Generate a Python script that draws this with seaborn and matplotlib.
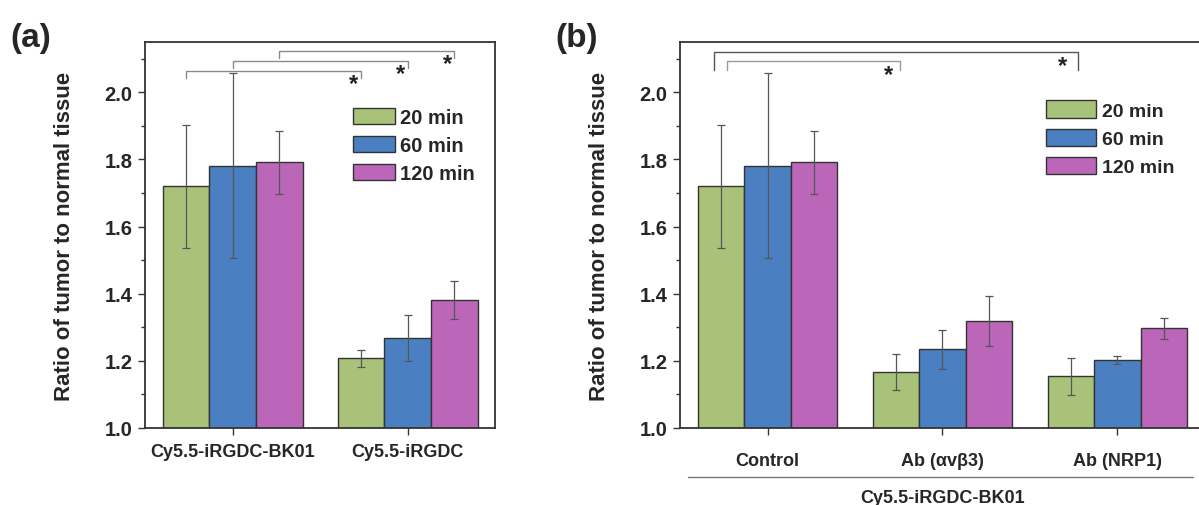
import numpy as np
import pandas as pd
import seaborn as sns
import matplotlib.pyplot as plt
import matplotlib.transforms as mtransforms
from matplotlib.container import BarContainer

# data
times = ["20 min", "60 min", "120 min"]

groups_a = ["Cy5.5-iRGDC-BK01", "Cy5.5-iRGDC"]
a_20 = [1.720, 1.208]
a_60 = [1.782, 1.269]
a_120 = [1.792, 1.381]
err_a_20 = [0.183, 0.025]
err_a_60 = [0.275, 0.069]
err_a_120 = [0.094, 0.057]

groups_b = ["Control", "Ab (\u03b1v\u03b23)", "Ab (NRP1)"]
b_20 = [1.720, 1.167, 1.154]
b_60 = [1.782, 1.234, 1.203]
b_120 = [1.792, 1.319, 1.297]
err_b_20 = [0.183, 0.054, 0.056]
err_b_60 = [0.275, 0.058, 0.011]
err_b_120 = [0.094, 0.075, 0.031]

colors = ["#a8c279", "#4a80c2", "#bc66ba"]

sns.set_theme(style="white")
plt.rcParams["font.family"] = ["Liberation Sans", "DejaVu Sans"]
plt.rcParams["font.weight"] = "bold"


def make_df(groups, vals, errs):
    rows = []
    for t, v, e in zip(times, vals, errs):
        for g, vv, ee in zip(groups, v, e):
            rows.append({"group": g, "time": t, "value": vv, "err": ee})
    return pd.DataFrame(rows)


df_a = make_df(groups_a, [a_20, a_60, a_120], [err_a_20, err_a_60, err_a_120])
df_b = make_df(groups_b, [b_20, b_60, b_120], [err_b_20, err_b_60, err_b_120])

fig = plt.figure(figsize=(11.99, 5.06), dpi=100)
ax_a = fig.add_axes([145 / 1199, 77 / 506, 350 / 1199, 386 / 506])
ax_b = fig.add_axes([680 / 1199, 77 / 506, 525 / 1199, 386 / 506])


def draw_panel(ax, df, groups, xlim):
    sns.barplot(data=df, x="group", y="value", hue="time", order=groups,
                hue_order=times, palette=colors, saturation=1,
                errorbar=None, width=0.8, edgecolor="#333333",
                linewidth=1.0, legend=False, ax=ax)
    bars = [c for c in ax.containers if isinstance(c, BarContainer)]
    centers = {}
    for t, cont in zip(times, bars):
        for g, bar in zip(groups, cont.patches):
            row = df[(df.group == g) & (df.time == t)].iloc[0]
            xc = bar.get_x() + bar.get_width() / 2
            centers[(g, t)] = xc
            ax.errorbar(xc, row.value, yerr=row.err, fmt="none",
                        ecolor="#555555", elinewidth=0.9, capsize=3,
                        capthick=0.9, zorder=5)
    ax.set_xlim(*xlim)
    ax.set_ylim(1.0, 2.15)
    ax.set_yticks(np.arange(1.0, 2.01, 0.2))
    ax.set_yticks(np.arange(1.1, 2.11, 0.2), minor=True)
    ax.set_yticklabels([f"{v:.1f}" for v in np.arange(1.0, 2.01, 0.2)])
    ax.tick_params(axis="y", which="major", direction="out", length=5,
                   width=1.0, color="#333333", pad=4, labelsize=14.5,
                   left=True)
    ax.tick_params(axis="y", which="minor", direction="out", length=3,
                   width=1.0, color="#333333", left=True)
    ax.tick_params(axis="x", direction="out", length=5, width=1.0,
                   color="#333333", pad=6, labelsize=13, bottom=True)
    for lab in ax.get_xticklabels() + ax.get_yticklabels():
        lab.set_fontweight("bold")
    ax.set_xlabel("")
    ax.set_ylabel("Ratio of tumor to normal tissue", fontsize=16,
                  fontweight="bold")
    for s in ax.spines.values():
        s.set_color("#333333")
        s.set_linewidth(1.3)
    return centers, bars


def bracket(ax, x0, x1, y, leg, color, xs):
    ax.plot([x0, x0, x1, x1], [y - leg, y, y, y - leg], color=color,
            lw=1.0, clip_on=False, zorder=6)
    ax.text(xs, y - 0.004, "*", ha="center", va="top", fontsize=17,
            fontweight="bold", color="#222222")


# panel (a)
cen_a, bars_a = draw_panel(ax_a, df_a, groups_a, (-0.5, 1.5))
ax_a.yaxis.set_label_coords(-0.2, 0.5)
levels_a = [2.065, 2.094, 2.124]
for t, y in zip(times, levels_a):
    x0 = cen_a[(groups_a[0], t)]
    x1 = cen_a[(groups_a[1], t)]
    bracket(ax_a, x0, x1, y, 0.022, "#8a8a8a", x1 - 0.04)

h = [c.patches[0] for c in bars_a]
ax_a.legend(h, times, loc="upper left", bbox_to_anchor=(0.594, 0.829),
            frameon=False, handlelength=2.1, handleheight=0.85,
            labelspacing=0.45, handletextpad=0.25, borderpad=0,
            borderaxespad=0, prop={"weight": "bold", "size": 14.5})

# panel (b)
cen_b, bars_b = draw_panel(ax_b, df_b, groups_b, (-0.5, 2.5))
ax_b.yaxis.set_label_coords(-0.133, 0.5)
ax_b.tick_params(axis="x", pad=12, labelsize=13)
for lab in ax_b.get_xticklabels():
    lab.set_fontweight("bold")
g0 = cen_b[(groups_b[0], times[0])]
g1 = cen_b[(groups_b[1], times[0])]
g2 = cen_b[(groups_b[2], times[0])]
bracket(ax_b, g0 - 0.04, g2 + 0.04, 2.119, 0.052, "#555555", g2 - 0.05)
bracket(ax_b, g0 + 0.034, g1 + 0.023, 2.092, 0.026, "#9a9a9a", g1 - 0.04)

h = [c.patches[0] for c in bars_b]
ax_b.legend(h, times, loc="upper left", bbox_to_anchor=(0.697, 0.849),
            frameon=False, handlelength=2.6, handleheight=1.0,
            labelspacing=0.46, handletextpad=0.3, borderpad=0,
            borderaxespad=0, prop={"weight": "bold", "size": 14})

# group line under panel (b)
trans = mtransforms.blended_transform_factory(ax_b.transData, ax_b.transAxes)
ax_b.plot([-0.455, 2.43], [-0.127, -0.127], color="#777777", lw=1.0,
          transform=trans, clip_on=False)
ax_b.text(1.0, -0.179, "Cy5.5-iRGDC-BK01", transform=trans, ha="center",
          va="center", fontsize=13, fontweight="bold")

fig.text(10 / 1199, 1 - 38 / 506, "(a)", fontsize=24, fontweight="bold",
         va="center", ha="left")
fig.text(555 / 1199, 1 - 38 / 506, "(b)", fontsize=24, fontweight="bold",
         va="center", ha="left")

fig.savefig("out.png", dpi=100)
